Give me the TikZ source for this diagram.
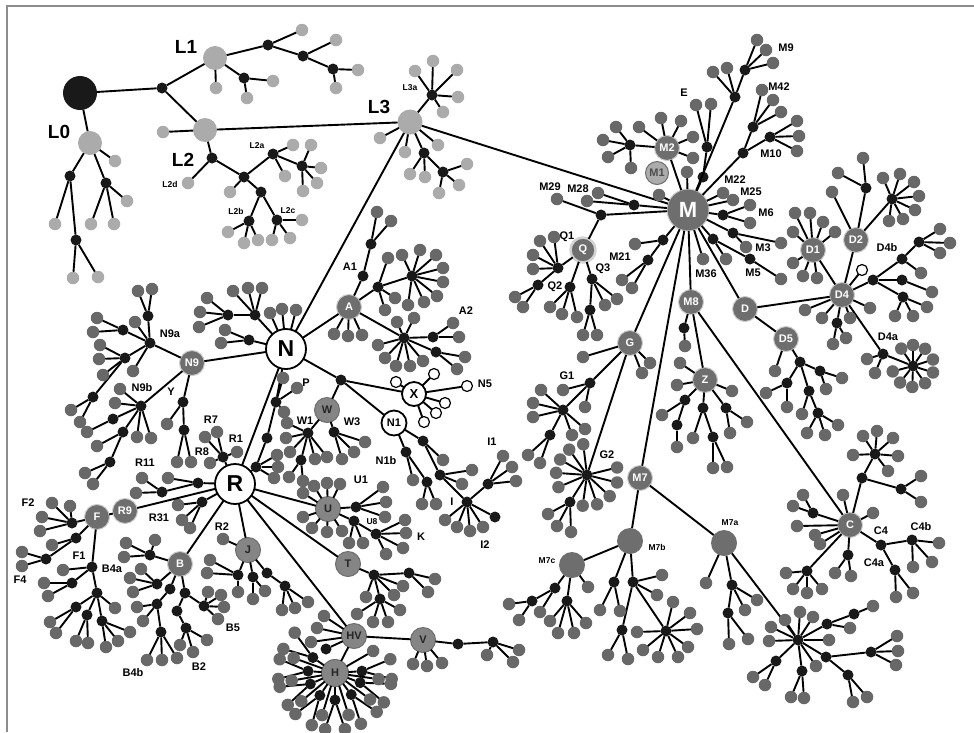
\documentclass[tikz,border=0pt]{standalone}
\usepackage{fontspec}
\setmainfont{Liberation Sans}
\definecolor{leafgray}{HTML}{686868}
\definecolor{palegray}{HTML}{ABABAB}
\definecolor{hubgray}{HTML}{6E6E6E}
\definecolor{midgray}{HTML}{858585}
\tikzset{
  lf/.style={circle,fill=leafgray,inner sep=0pt,outer sep=0pt,minimum size=12.5pt},
  pl/.style={lf,fill=palegray},
  wl/.style={circle,draw,fill=white,line width=1.2pt,inner sep=0pt,outer sep=0pt,minimum size=11pt},
  jn/.style={circle,fill=black!90,inner sep=0pt,outer sep=0pt,minimum size=11pt},
  hub/.style={circle,fill=hubgray,draw=white!65!hubgray,line width=1pt,inner sep=0pt,outer sep=0pt,
    minimum size=25pt,text=white,font=\bfseries\fontsize{11}{11}\selectfont},
  hubd/.style={hub,fill=midgray,draw=hubgray,text=black!85},
  whub/.style={circle,draw,fill=white,line width=1.8pt,inner sep=0pt,outer sep=0pt,
    minimum size=40pt,font=\bfseries\fontsize{23}{23}\selectfont},
  lab/.style={font=\bfseries\fontsize{11}{11}\selectfont,inner sep=0pt},
  sml/.style={font=\bfseries\fontsize{8.5}{8.5}\selectfont,inner sep=0pt},
  bigl/.style={font=\bfseries\fontsize{19}{19}\selectfont,inner sep=0pt},
}
% leaves at given points / at given angles, junction tufts round a hub
\newcommand{\twigs}[3][lf]{\foreach \x/\y [count=\i] in {#3}{%
  \node[#1] (#2p\i) at (\x,\y) {}; \draw (#2) -- (#2p\i);}}
\newcommand{\spray}[4][lf]{\foreach \a [count=\i] in {#4}{%
  \path (#2) ++(\a:#3) node[#1] (#2f\i) {}; \draw (#2) -- (#2f\i);}}
\newcommand{\bush}[5]{\foreach \a [count=\i] in {#5}{%
  \path (#1) ++(\a:#2) node[jn] (#1b\i) {};
  \path (#1) ++(\a-#4:#3) node[lf] (#1b\i-l) {};
  \path (#1) ++(\a+#4:#3) node[lf] (#1b\i-r) {};
  \draw (#1) -- (#1b\i);
  \draw (#1b\i) -- (#1b\i-l);
  \draw (#1b\i) -- (#1b\i-r);}}
\newcommand{\wire}[2]{\foreach \t in {#2}{\draw (#1) -- (\t);}}

\begin{document}
\begin{tikzpicture}[x=1pt,y=-1pt,line width=1.9pt]
  \useasboundingbox (0,0) rectangle (974,732);
  \draw[black!45,line width=1.5pt] (7,732) -- (7,6) -- (974,6);

  % main hubs
  \node[circle,fill=black!90,inner sep=0pt,outer sep=0pt,minimum size=34pt] (root) at (80,93) {};
  \node[pl,minimum size=24pt] (L0) at (90,143) {};
  \node[pl,minimum size=24pt] (L1) at (215,58) {};
  \node[pl,minimum size=24pt] (L2) at (205,130) {};
  \node[pl,minimum size=25pt] (L3) at (410,122) {};
  \node[hub,minimum size=42pt,font=\bfseries\fontsize{22}{22}\selectfont] (M) at (688,210) {M};
  \node[whub] (N) at (286,349) {N};
  \node[whub] (R) at (235,484) {R};
  \node[jn] (lj) at (162,88) {};
  \wire{root}{lj,L0}
  \wire{lj}{L1,L2}
  \wire{L2}{L3}
  \wire{L3}{M,N}
  \wire{N}{R}
  \node[bigl] (tL0) at (59,132) {L0};
  \node[bigl] (tL1) at (186,47) {L1};
  \node[bigl] (tL2) at (183,160) {L2};
  \node[bigl] (tL3) at (379,107) {L3};

  % L tree
  \node[jn] (l1a) at (244,78) {};
  \node[jn] (l1b) at (268,45) {};
  \node[jn] (l1c) at (303,56) {};
  \node[jn] (l1d) at (333,69) {};
  \wire{L1}{l1a,l1b}
  \wire{l1b}{l1c}
  \wire{l1c}{l1d}
  \twigs[pl]{L1}{216/88}
  \twigs[pl]{l1a}{273/81,247/98}
  \twigs[pl]{l1b}{302/30}
  \twigs[pl]{l1c}{336/40}
  \twigs[pl]{l1d}{358/70,336/88}
  \twigs[pl]{L2}{163/132}
  \node[jn] (l2a) at (212,158) {};
  \node[jn] (l2b) at (244,177) {};
  \node[jn] (L2a) at (273,154) {};
  \node[jn] (l2c) at (302,166) {};
  \node[jn] (l2d) at (261,192) {};
  \node[jn] (L2b) at (249,221) {};
  \node[jn] (L2c) at (277,220) {};
  \wire{L2}{l2a}
  \wire{l2a}{l2b}
  \wire{l2b}{L2a,l2d}
  \wire{L2a}{l2c}
  \wire{l2d}{L2b,L2c}
  \twigs[pl]{l2a}{188/183}
  \twigs[pl]{l2b}{230/192}
  \twigs[pl]{L2a}{293/145,285/176}
  \twigs[pl]{l2c}{311/145,321/168,317/183,303/191}
  \twigs[pl]{L2b}{228/232,244/243,258/240}
  \twigs[pl]{L2c}{302/220,272/240,290/238}
  \node[sml] (tL2a) at (257,146) {L2a};
  \node[sml] (tL2b) at (236,211) {L2b};
  \node[sml] (tL2c) at (288,211) {L2c};
  \node[sml] (tL2d) at (170,184) {L2d};
  \node[jn] (l0a) at (70,176) {};
  \node[jn] (l0b) at (106,183) {};
  \node[jn] (l0c) at (76,240) {};
  \wire{L0}{l0a,l0b}
  \wire{l0a}{l0c}
  \twigs[pl]{L0}{115/161}
  \twigs[pl]{l0a}{55/224}
  \twigs[pl]{l0c}{73/278,98/277}
  \twigs[pl]{l0b}{127/201,91/224,114/224}
  \node[jn] (L3a) at (432,95) {};
  \node[jn] (l3a) at (424,153) {};
  \node[jn] (l3b) at (443,172) {};
  \wire{L3}{L3a,l3a}
  \wire{l3a}{l3b}
  \twigs[pl]{L3a}{415/71,433/61,457/70,458/97,443/112}
  \twigs[pl]{L3}{380/138,405/152,438/145}
  \twigs[pl]{l3a}{410/174,425/177}
  \twigs[pl]{l3b}{467/164,459/185,439/193}
  \node[sml] (tL3a) at (410,88) {L3a};

  % M and its near branches
  \node[hub,minimum size=23pt,fill=palegray,draw=hubgray,text=hubgray!70!black] (M1) at (657,173) {M1};
  \node[hub] (M2) at (667,148) {M2};
  \node[jn] (m2a) at (630,145) {};
  \wire{M}{M2}
  \wire{M2}{m2a}
  \twigs{M2}{639/127,661/118,681/121,693/137,693/158}
  \twigs{m2a}{616/127,603/140,608/157,631/168}
  \twigs{M}{687/172,659/195,723/193,733/200,703/259}
  \node[jn] (me1) at (703,177) {};
  \node[jn] (me2) at (707,147) {};
  \node[jn] (m9a) at (735,97) {};
  \node[jn] (m9b) at (745,70) {};
  \node[jn] (m10a) at (743,153) {};
  \node[jn] (m42) at (753,127) {};
  \node[jn] (m10) at (770,137) {};
  \wire{M}{me1,m9a,m10a}
  \wire{me1}{me2}
  \wire{m9a}{m9b}
  \wire{m10a}{m42,m10}
  \twigs{me2}{696/105,711/104}
  \twigs{m9a}{713/72,727/68}
  \twigs{m9b}{757/40,766/50,773/63}
  \twigs{m42}{762/90,773/100,781/112}
  \twigs{m10}{797/121,799/136,797/151}
  \node[jn] (m22) at (723,215) {};
  \node[jn] (m3) at (733,233) {};
  \node[jn] (m5a) at (713,239) {};
  \node[jn] (m5) at (750,259) {};
  \wire{M}{m22,m3,m5a}
  \wire{m5a}{m5}
  \twigs{m22}{750/205,750/223}
  \twigs{m3}{781/243,746/247}
  \twigs{m5a}{726/259}
  \twigs{m5}{781/279}
  \node[lab] (tE) at (684,93) {E};
  \node[lab] (tM9) at (786,48) {M9};
  \node[lab] (tM42) at (779,87) {M42};
  \node[lab] (tM10) at (771,154) {M10};
  \node[lab] (tM22) at (735,180) {M22};
  \node[lab] (tM25) at (751,192) {M25};
  \node[lab] (tM6) at (766,213) {M6};
  \node[lab] (tM3) at (763,248) {M3};
  \node[lab] (tM5) at (753,273) {M5};
  \node[lab] (tM36) at (706,274) {M36};

  % M28, M29, Q, M21
  \node[jn] (m28) at (634,205) {};
  \node[jn] (m29) at (601,215) {};
  \node[hub,draw=white!70!hubgray,line width=2.5pt] (Q) at (583,250) {Q};
  \wire{M}{m28,m29}
  \wire{m29}{Q}
  \twigs{m28}{598/193,587/201}
  \twigs{m29}{557/199}
  \node[jn] (q1) at (558,268) {};
  \node[jn] (q1b) at (538,285) {};
  \node[jn] (Q2) at (570,287) {};
  \node[jn] (Q3) at (592,279) {};
  \node[jn] (q3b) at (590,310) {};
  \wire{Q}{q1,Q2,Q3}
  \wire{q1}{q1b}
  \wire{Q3}{q3b}
  \twigs{q1}{540/241,554/237,533/255,533/269}
  \twigs{q1b}{515/297,523/307}
  \twigs{Q2}{550/307,562/314,577/317}
  \twigs{Q3}{605/305,617/299}
  \twigs{q3b}{583/335,597/335}
  \node[jn] (m21) at (663,240) {};
  \node[jn] (m21b) at (648,260) {};
  \wire{M}{m21}
  \wire{m21}{m21b}
  \twigs{m21}{635/244}
  \twigs{m21b}{622/280,632/288}
  \node[lab] (tM29) at (550,187) {M29};
  \node[lab] (tM28) at (578,189) {M28};
  \node[lab] (tQ1) at (567,237) {Q1};
  \node[lab] (tQ2) at (555,287) {Q2};
  \node[lab] (tQ3) at (603,269) {Q3};
  \node[lab] (tM21) at (620,257) {M21};

  % G
  \node[hub] (G) at (630,343) {G};
  \node[jn] (G1) at (590,383) {};
  \node[jn] (g1a) at (563,410) {};
  \node[jn] (g1b) at (550,435) {};
  \node[jn] (G2) at (587,475) {};
  \node[jn] (g2a) at (570,502) {};
  \wire{M}{G}
  \wire{G}{G1,G2}
  \wire{G1}{g1a}
  \wire{g1a}{g1b}
  \wire{G2}{g2a}
  \twigs{G}{583/357,650/363,642/373}
  \twigs{G1}{563/390,585/407}
  \twigs{g1a}{541/390,533/403,533/417,585/429,572/435}
  \twigs{g1b}{528/455,540/463}
  \spray{G2}{31}{-150,-125,-97,-14,14,43,71,98,157,184}
  \twigs{g2a}{548/514,557/526,571/532}
  \node[lab] (tG1) at (567,376) {G1};
  \node[lab] (tG2) at (607,455) {G2};

  % M7
  \node[hub] (M7) at (640,478) {M7};
  \node[hub,minimum size=26pt,draw=none] (M7b) at (630,541) {};
  \node[hub,minimum size=26pt,draw=none] (M7a) at (724,543) {};
  \node[hub,minimum size=26pt,draw=none] (M7c) at (572,565) {};
  \wire{M}{M7}
  \wire{M7}{M7b,M7a}
  \wire{M7b}{M7c}
  \node[sml] (tM7a) at (730,523) {M7a};
  \node[sml] (tM7b) at (657,547) {M7b};
  \node[sml] (tM7c) at (547,561) {M7c};
  \node[jn] (m7c1) at (555,588) {};
  \node[jn] (m7c2) at (532,601) {};
  \node[jn] (m7c3) at (567,601) {};
  \wire{M7c}{m7c1,m7c3}
  \wire{m7c1}{m7c2}
  \twigs{M7c}{588/587}
  \twigs{m7c1}{540/612}
  \twigs{m7c2}{509/604,519/620}
  \twigs{m7c3}{550/621,558/633,574/633,586/623}
  \node[jn] (m7b1) at (614,582) {};
  \node[jn] (m7b2) at (633,582) {};
  \node[jn] (m7b3) at (622,630) {};
  \node[jn] (m7b4) at (666,631) {};
  \wire{M7b}{m7b1,m7b2}
  \wire{m7b2}{m7b3,m7b4}
  \twigs{m7b1}{600/610,620/611}
  \twigs{m7b2}{662/575,657/595}
  \twigs{m7b3}{608/655,628/659}
  \twigs{m7b4}{673/602,690/613,697/629,688/647,678/657,658/657,643/650,637/632}
  \node[jn] (m7a1) at (732,585) {};
  \node[jn] (m7a2) at (728,613) {};
  \node[jn] (m7a3) at (798,640) {};
  \node[jn] (m7a4) at (827,624) {};
  \node[jn] (m7a5) at (854,614) {};
  \node[jn] (m7a6) at (826,657) {};
  \node[jn] (m7a7) at (871,652) {};
  \node[jn] (m7a8) at (848,675) {};
  \node[jn] (m7a9) at (776,661) {};
  \node[jn] (m7a10) at (802,671) {};
  \wire{M7a}{m7a1,m7a3}
  \wire{m7a1}{m7a2}
  \wire{m7a3}{m7a4,m7a6,m7a9,m7a10}
  \wire{m7a4}{m7a5}
  \wire{m7a6}{m7a7,m7a8}
  \twigs{M7a}{706/583}
  \twigs{m7a1}{757/600,745/610}
  \twigs{m7a2}{729/644,748/639}
  \twigs{m7a3}{800/612,813/617,785/620,771/627,769/641,816/666,829/640}
  \twigs{m7a4}{850/628}
  \twigs{m7a5}{873/606}
  \twigs{m7a7}{897/636,898/651,896/665}
  \twigs{m7a8}{853/702,867/697}
  \twigs{m7a9}{753/677,765/685}
  \twigs{m7a10}{791/697,804/698}

  % M8, Z, C
  \node[hub] (M8) at (691,302) {M8};
  \node[jn] (m8a) at (684,328) {};
  \node[hub] (Z) at (705,380) {Z};
  \node[hub] (C) at (850,525) {C};
  \wire{M}{M8}
  \wire{M8}{m8a,Z,C}
  \twigs{m8a}{685/346}
  \twigs{Z}{680/363,677/385,732/391}
  \node[jn] (z1) at (685,400) {};
  \node[jn] (z2) at (677,425) {};
  \node[jn] (z3) at (703,408) {};
  \node[jn] (z4) at (713,437) {};
  \node[jn] (z5) at (726,408) {};
  \wire{Z}{z1,z3,z5}
  \wire{z1}{z2}
  \wire{z3}{z4}
  \twigs{z1}{662/415}
  \twigs{z2}{677/447}
  \twigs{z3}{693/438}
  \twigs{z4}{713/468,727/467}
  \twigs{z5}{747/422,730/433}
  \node[jn] (c1) at (862,478) {};
  \node[jn] (c2) at (875,454) {};
  \node[jn] (c3) at (901,489) {};
  \node[jn] (c4) at (813,513) {};
  \node[jn] (c5) at (807,571) {};
  \node[jn] (c6) at (848,555) {};
  \node[jn] (C4) at (881,545) {};
  \node[jn] (C4b) at (912,540) {};
  \node[jn] (C4a) at (895,570) {};
  \wire{C}{c1,c4,c5,c6,C4}
  \wire{c1}{c2,c3}
  \wire{C4}{C4b,C4a}
  \twigs{C}{843/495,873/513,797/526,815/535,820/544}
  \twigs{c2}{863/436,877/431,893/438,898/456,888/471,853/455}
  \twigs{c3}{921/476,921/502}
  \twigs{c4}{803/495,793/506}
  \twigs{c5}{786/573,793/589,807/593,822/589}
  \twigs{c6}{835/573,851/576}
  \twigs{C4b}{939/543,932/562,913/567}
  \twigs{C4a}{896/597,913/593}
  \node[lab] (tC4) at (881,531) {C4};
  \node[lab] (tC4b) at (921,527) {C4b};
  \node[lab] (tC4a) at (874,563) {C4a};

  % D cluster
  \node[hub] (D) at (745,309) {D};
  \node[hub] (D4) at (842,295) {D4};
  \node[hub] (D1) at (813,250) {D1};
  \node[hub] (D2) at (856,240) {D2};
  \node[hub] (D5) at (786,339) {D5};
  \wire{M}{D}
  \wire{D}{D4,D5}
  \wire{D4}{D1,D2}
  \twigs[wl]{D4}{862/270}
  \twigs{D1}{795/213,810/213,823/222,835/232,793/232,793/263,803/276,817/278}
  \node[jn] (d2a) at (866,188) {};
  \node[jn] (d2b) at (892,199) {};
  \wire{D2}{d2a,d2b}
  \twigs{D2}{832/192}
  \twigs{d2a}{863/158,838/173}
  \twigs{d2b}{883/178,900/174,914/182,919/196,915/210,903/219,889/221}
  \node[jn] (d4r) at (873,280) {};
  \node[jn] (D4b) at (902,259) {};
  \node[jn] (d4c) at (919,242) {};
  \node[jn] (d4d) at (902,280) {};
  \node[jn] (d4e) at (903,297) {};
  \node[jn] (d4f) at (837,323) {};
  \node[jn] (D4a) at (883,354) {};
  \node[jn] (d4g) at (913,366) {};
  \wire{D4}{d4r,d4f,D4a}
  \wire{d4r}{D4b,d4d,d4e}
  \wire{D4b}{d4c}
  \wire{D4a}{d4g}
  \twigs{d4c}{940/229,950/243,940/253}
  \twigs{D4b}{921/273}
  \twigs{d4d}{932/292}
  \twigs{d4e}{927/307,913/316,895/316}
  \twigs{D4}{805/310,822/318,850/318,870/308}
  \twigs{d4f}{833/344,846/338}
  \twigs{D4a}{867/359,875/373}
  \spray{d4g}{21}{-124,-90,-55,-18,18,55,92,128,165}
  \node[jn] (d5a) at (800,362) {};
  \node[jn] (d5b) at (820,371) {};
  \node[jn] (d5c) at (787,383) {};
  \node[jn] (d5d) at (809,391) {};
  \node[jn] (d5e) at (818,413) {};
  \wire{D5}{d5a}
  \wire{d5a}{d5b,d5c,d5d}
  \wire{d5d}{d5e}
  \twigs{D5}{775/371}
  \twigs{d5b}{842/378,826/389}
  \twigs{d5c}{766/393,787/407}
  \twigs{d5d}{802/414}
  \twigs{d5e}{807/433,825/435,838/425}
  \node[lab] (tD4b) at (887,248) {D4b};
  \node[lab] (tD4a) at (888,337) {D4a};

  % N side
  \twigs{N}{270/313,282/309,296/310}
  \node[jn] (n2) at (255,315) {};
  \node[jn] (n3) at (228,315) {};
  \node[jn] (n4) at (249,340) {};
  \wire{N}{n2,n4}
  \wire{n2}{n3}
  \twigs{n2}{233/291,248/288,262/288}
  \twigs{n3}{207/298,200/312,199/327}
  \twigs{n4}{225/330,221/343}
  \node[hub] (N9) at (192,363) {N9};
  \node[jn] (N9a) at (150,343) {};
  \node[jn] (n9a1) at (148,316) {};
  \node[jn] (n9a2) at (123,330) {};
  \node[jn] (n9a3) at (125,358) {};
  \node[jn] (n9a4) at (93,397) {};
  \node[jn] (N9b) at (141,406) {};
  \node[jn] (n9b1) at (113,419) {};
  \node[jn] (n9b2) at (123,432) {};
  \node[jn] (n9b3) at (110,462) {};
  \node[jn] (y1) at (183,402) {};
  \node[jn] (y2) at (184,430) {};
  \wire{N}{N9}
  \wire{N9}{N9a,N9b,y1}
  \wire{N9a}{n9a1,n9a2,n9a3}
  \wire{n9a3}{n9a4}
  \wire{N9b}{n9b1,n9b2}
  \wire{n9b2}{n9b3}
  \wire{y1}{y2}
  \twigs{N9a}{135/322,133/371}
  \twigs{n9a1}{138/291,152/289}
  \twigs{n9a2}{97/318,93/332}
  \twigs{n9a3}{100/345,99/359,103/375}
  \twigs{n9a4}{71/410,80/422}
  \twigs{N9b}{120/389,115/403,137/437,151/438}
  \twigs{n9b1}{87/432}
  \twigs{n9b2}{97/446}
  \twigs{n9b3}{85/473,93/484}
  \twigs{y1}{167/424}
  \twigs{y2}{177/462,191/462}
  \node[lab] (tN9a) at (170,334) {N9a};
  \node[lab] (tN9b) at (142,388) {N9b};
  \node[lab] (tY) at (171,392) {Y};

  % A
  \node[hub] (A) at (349,307) {A};
  \node[jn] (A1) at (363,276) {};
  \node[jn] (a1b) at (371,244) {};
  \node[jn] (a2) at (378,287) {};
  \node[jn] (a3) at (412,276) {};
  \node[jn] (A2) at (404,338) {};
  \node[jn] (a5) at (433,337) {};
  \node[jn] (a6) at (436,352) {};
  \wire{N}{A}
  \wire{A}{A1,a2,A2}
  \wire{A1}{a1b}
  \wire{a2}{a3}
  \wire{A2}{a5,a6}
  \twigs{a1b}{377/212,391/221}
  \twigs{a2}{388/258,395/298,385/310}
  \twigs{a3}{402/255,420/250,436/255,443/268,443/282,437/296,424/302,408/305}
  \twigs{A}{334/334,348/336,362/335}
  \twigs{A2}{378/345,385/358,396/366,410/366,423/361,397/322,414/318}
  \twigs{a5}{453/323,459/337}
  \twigs{a6}{465/357,457/369}
  \node[lab] (tA1) at (350,267) {A1};
  \node[lab] (tA2) at (466,311) {A2};

  % W, X, N1, I
  \node[jn] (n1) at (341,380) {};
  \node[hubd] (W) at (327,410) {W};
  \node[jn] (W1) at (308,433) {};
  \node[jn] (w1b) at (301,460) {};
  \node[jn] (W3) at (334,432) {};
  \wire{N}{n1}
  \wire{n1}{W}
  \wire{W}{W1,W3}
  \wire{W1}{w1b}
  \twigs{W1}{287/423,286/438,290/452,315/459,327/457}
  \twigs{w1b}{289/477,303/481}
  \twigs{W3}{365/442,354/452,342/459}
  \node[whub,minimum size=24pt,font=\bfseries\fontsize{13}{13}\selectfont] (X) at (414,394) {X};
  \node[whub,minimum size=25pt,font=\bfseries\fontsize{11}{11}\selectfont] (N1) at (394,423) {N1};
  \wire{n1}{X,N1}
  \twigs[wl]{X}{396/382,434/374,467/386,445/403,436/413,424/422}
  \node[jn] (p1) at (276,402) {};
  \node[jn] (p2) at (267,438) {};
  \node[jn] (p3) at (256,467) {};
  \wire{N}{p1}
  \wire{p1}{p2}
  \wire{p2}{p3}
  \wire{p3}{R}
  \twigs{p1}{283/378,297/388,284/412}
  \twigs{p3}{277/455,278/467,274/478}
  \node[jn] (n1a) at (423,441) {};
  \node[jn] (N1b) at (406,452) {};
  \node[jn] (i0) at (440,475) {};
  \node[jn] (n1c) at (427,482) {};
  \node[jn] (I) at (467,502) {};
  \node[jn] (I1) at (488,484) {};
  \node[jn] (I2) at (495,517) {};
  \wire{N1}{n1a,N1b}
  \wire{n1a}{i0}
  \wire{i0}{I}
  \wire{N1b}{n1c}
  \wire{I}{I1,I2}
  \twigs{n1a}{443/460}
  \twigs{i0}{472/470,462/484}
  \twigs{N1b}{413/480}
  \twigs{n1c}{422/504,436/504}
  \twigs{I}{445/520,457/527,470/531,483/527}
  \twigs{I1}{503/456,512/467,516/481}
  \node[lab] (tP) at (306,383) {P};
  \node[lab] (tW1) at (305,421) {W1};
  \node[lab] (tW3) at (352,422) {W3};
  \node[lab] (tN5) at (485,384) {N5};
  \node[lab] (tN1b) at (386,461) {N1b};
  \node[lab] (tI) at (452,502) {I};
  \node[lab] (tI1) at (492,442) {I1};
  \node[lab] (tI2) at (485,545) {I2};
  \node[lab] (tK) at (421,537) {K};

  % R side
  \node[jn] (r1) at (223,457) {};
  \node[jn] (r2) at (198,483) {};
  \node[jn] (r3) at (162,492) {};
  \node[jn] (r4) at (202,502) {};
  \wire{R}{r1,r2,r4}
  \wire{r2}{r3}
  \twigs{r1}{205/437,217/432,237/452,210/463}
  \twigs{r2}{168/478}
  \twigs{r3}{142/478,136/493}
  \twigs{r4}{178/505,182/520,190/528}
  \node[lab] (tR7) at (211,420) {R7};
  \node[lab] (tR1) at (236,439) {R1};
  \node[lab] (tR8) at (202,452) {R8};
  \node[lab] (tR11) at (145,463) {R11};
  \node[lab] (tR31) at (159,518) {R31};
  \node[lab] (tR2) at (222,527) {R2};

  % U, T
  \node[hubd] (U) at (328,509) {U};
  \node[jn] (u1) at (356,507) {};
  \node[jn] (U8) at (354,521) {};
  \node[jn] (u2) at (376,534) {};
  \wire{R}{U}
  \wire{U}{u1,U8}
  \wire{U8}{u2}
  \twigs{U}{303/493,314/486,327/483,340/484,303/517,312/528,327/532,342/531}
  \twigs{u1}{383/487,386/502,385/517}
  \twigs{U8}{349/543,363/543}
  \twigs{u2}{405/520,406/533,403/548,386/554}
  \node[lab] (tU1) at (361,480) {U1};
  \node[sml] (tU8) at (372,522) {U8};
  \node[hubd] (T) at (348,564) {T};
  \node[jn] (t1) at (374,575) {};
  \node[jn] (t2) at (409,573) {};
  \node[jn] (t3) at (380,599) {};
  \wire{R}{T}
  \wire{T}{t1}
  \wire{t1}{t2,t3}
  \twigs{t1}{366/597,394/595,403/586}
  \twigs{t2}{435/579,428/592}
  \twigs{t3}{357/614,373/622,388/622,400/610}

  % HV, V, H
  \node[hubd] (HV) at (354,636) {HV};
  \node[hubd] (V) at (423,640) {V};
  \node[hubd,minimum size=27pt] (H) at (335,673) {H};
  \node[jn] (hv1) at (326,649) {};
  \wire{R}{HV}
  \wire{HV}{V,H,hv1}
  \twigs{HV}{324/616,317/628,311/642}
  \node[jn] (v1) at (458,644) {};
  \node[jn] (v2) at (493,642) {};
  \wire{V}{v1}
  \wire{v1}{v2}
  \twigs{V}{413/664,427/666,442/663}
  \twigs{v2}{487/655,519/650,513/662}
  \bush{H}{27}{57}{10}{215,184,156,124,90,53,21,-4}
  \spray{H}{44}{200,170,140,107,72,37,8,-30}

  % J, B
  \node[hubd] (J) at (248,550) {J};
  \node[jn] (j1) at (238,575) {};
  \node[jn] (j2) at (253,577) {};
  \node[jn] (j3) at (267,573) {};
  \node[jn] (j4) at (285,586) {};
  \wire{R}{J}
  \wire{J}{j1,j2,j3}
  \wire{j3}{j4}
  \twigs{J}{223/539}
  \twigs{j1}{210/560,207/573,238/592}
  \twigs{j2}{253/599,265/591}
  \twigs{j4}{282/610,295/608,308/602}
  \node[hub] (B) at (180,564) {B};
  \node[jn] (b1) at (150,555) {};
  \node[jn] (b2) at (157,584) {};
  \node[jn] (b3) at (170,589) {};
  \node[jn] (b4) at (185,593) {};
  \node[jn] (b5) at (157,604) {};
  \node[jn] (b6) at (177,611) {};
  \node[jn] (b7) at (161,632) {};
  \node[jn] (b8) at (186,628) {};
  \node[jn] (b9) at (204,606) {};
  \wire{R}{B}
  \wire{B}{b1,b2,b3,b4}
  \wire{b3}{b5}
  \wire{b5}{b7}
  \wire{b4}{b6,b9}
  \wire{b6}{b8}
  \twigs{b1}{126/543,124/557,155/540}
  \twigs{b2}{130/578,133/592,141/569}
  \twigs{b5}{137/607,143/621}
  \twigs{b7}{147/660,162/660,177/658}
  \twigs{b8}{180/645,193/652,207/640}
  \twigs{b9}{208/592,221/595,224/607,218/619}
  \node[lab] (tB4a) at (112,569) {B4a};
  \node[lab] (tB4b) at (133,673) {B4b};
  \node[lab] (tB2) at (199,667) {B2};
  \node[lab] (tB5) at (233,628) {B5};

  % R9, F
  \node[hub] (R9) at (125,511) {R9};
  \node[hub] (F) at (97,517) {F};
  \node[jn] (f1) at (72,523) {};
  \node[jn] (f2) at (76,538) {};
  \node[jn] (f3) at (46,559) {};
  \node[jn] (F1) at (92,567) {};
  \node[jn] (f4) at (72,583) {};
  \node[jn] (f5) at (97,593) {};
  \node[jn] (f6) at (76,607) {};
  \node[jn] (f7) at (87,615) {};
  \node[jn] (f8) at (102,621) {};
  \wire{R}{R9}
  \wire{R9}{F}
  \wire{F}{f1,f2,F1}
  \wire{f2}{f3}
  \wire{F1}{f4,f5}
  \wire{f5}{f6,f7,f8}
  \twigs{f1}{52/503,70/506,42/517,40/531}
  \twigs{f2}{52/545}
  \twigs{f3}{22/552,22/566}
  \twigs{F1}{63/570}
  \twigs{f4}{44/583,48/596}
  \twigs{f5}{115/608}
  \twigs{f6}{50/622,56/633}
  \twigs{f7}{76/641,88/643}
  \twigs{f8}{106/647,118/641,130/632}
  \node[lab] (tF2) at (28,503) {F2};
  \node[lab] (tF1) at (79,556) {F1};
  \node[lab] (tF4) at (20,580) {F4};
\end{tikzpicture}
\end{document}
